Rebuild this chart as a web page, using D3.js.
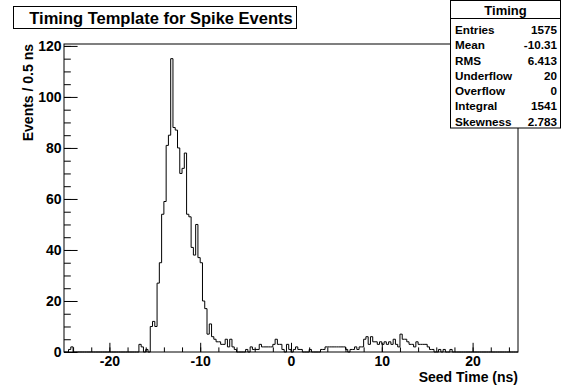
<!DOCTYPE html>
<html><head><meta charset="utf-8">
<script src="https://cdn.jsdelivr.net/npm/d3@7"></script>
<style>
html,body{margin:0;padding:0;background:#fff;}
svg{display:block;font-family:"Liberation Sans",Arial,Helvetica,sans-serif;font-weight:bold;}
</style>
</head><body>
<svg id="c" width="562" height="387"></svg>
<script>
// ---- data ----
const binLow = -25;
const binWidth = 0.25;
const counts = [
  0,0,1,2,0,0,0,0,0,0,0,0,0,0,0,0,0,0,0,0,
  0,0,0,0,0,0,0,0,0,0,0,0,0,3,2,0,1,0,10,12,
  10,27,35,54,59,81,85,115,88,87,80,70,72,78,54,53,41,38,50,37,
  35,20,17,7,11,6,5,4,4,3,3,5,2,5,2,1,0,0,0,0,
  1,0,2,1,1,1,3,2,2,2,2,2,3,5,3,3,1,0,3,1,
  0,1,2,1,1,0,0,0,1,0,0,0,0,1,1,2,2,2,2,2,
  2,2,2,2,1,0,1,1,2,1,2,2,5,6,3,6,4,4,3,4,
  3,4,3,4,3,5,3,2,7,5,5,4,3,3,2,4,3,3,3,3,
  2,1,1,0,0,1,0,1,0,0,1,0,0,0,0,0,0,0,0,0,
  0,0,0,0,0,0,0,0,0,0,0,0,0,0,0,0,0,0,0,0
];
const xDomain = [-25, 25];
const yDomain = [0, 120.75];
const xMajorTicks = [-20, -10, 0, 10, 20];
const xMinorTicks = d3.range(-24, 25, 2);
const yMajorTicks = [0, 20, 40, 60, 80, 100, 120];
const yMinorTicks = d3.range(0, 121, 5);
const titleText = "Timing Template for Spike Events";
const xTitle = "Seed Time (ns)";
const yTitle = "Events / 0.5 ns";
const statsName = "Timing";
const statLabels = ["Entries", "Mean", "RMS", "Underflow", "Overflow", "Integral", "Skewness"];
const statValues = ["1575", "-10.31", "6.413", "20", "0", "1541", "2.783"];

// ---- layout ----
const L = 64, R = 518, T = 44, B = 352;
const svg = d3.select("#c");
svg.append("rect").attr("width", 562).attr("height", 387).attr("fill", "#fff");

const x = d3.scaleLinear().domain(xDomain).range([L, R]);
const y = d3.scaleLinear().domain(yDomain).range([B, T]);

// histogram outline
const bins = counts.map((c, i) => ({x0: binLow + i * binWidth, x1: binLow + (i + 1) * binWidth, c}));
let p = d3.path();
p.moveTo(x(bins[0].x0), y(0));
bins.forEach(b => { p.lineTo(x(b.x0), y(b.c)); p.lineTo(x(b.x1), y(b.c)); });
p.lineTo(x(bins[bins.length - 1].x1), y(0));
svg.append("path").attr("d", p.toString()).attr("fill", "none")
  .attr("stroke", "#000").attr("stroke-width", 1);

// axes
const fs = "14px";
const gx = svg.append("g").attr("transform", `translate(0,${B})`);
gx.call(d3.axisBottom(x).tickValues(xMinorTicks).tickFormat("").tickSizeInner(-4.6).tickSizeOuter(0));
const gx2 = svg.append("g").attr("transform", `translate(0,${B})`);
gx2.call(d3.axisBottom(x).tickValues(xMajorTicks).tickFormat(d3.format("d")).tickSizeInner(-9.2).tickSizeOuter(0).tickPadding(4));
const gy = svg.append("g").attr("transform", `translate(${L},0)`);
gy.call(d3.axisLeft(y).tickValues(yMinorTicks).tickFormat("").tickSizeInner(-6.8).tickSizeOuter(0));
const gy2 = svg.append("g").attr("transform", `translate(${L},0)`);
gy2.call(d3.axisLeft(y).tickValues(yMajorTicks).tickFormat(d3.format("d")).tickSizeInner(-13.6).tickSizeOuter(0).tickPadding(2.5));
svg.selectAll(".domain").remove();
svg.selectAll(".tick line").attr("stroke", "#000");
svg.selectAll(".tick text").attr("font-size", fs).attr("font-family", "Liberation Sans, Arial, sans-serif")
  .attr("font-weight", "bold").attr("fill", "#000");
gx2.selectAll(".tick text").text(d => d < 0 ? "-" + Math.abs(d) : d);

// frame
svg.append("rect").attr("x", L).attr("y", T).attr("width", R - L).attr("height", B - T)
  .attr("fill", "none").attr("stroke", "#000").attr("stroke-width", 1);

// axis titles
svg.append("text").attr("x", R).attr("y", 382).attr("text-anchor", "end")
  .attr("font-size", "14px").text(xTitle);
svg.append("text").attr("transform", `translate(33,${T}) rotate(-90)`).attr("text-anchor", "end")
  .attr("font-size", "14px").text(yTitle);

// title box
svg.append("rect").attr("x", 13.5).attr("y", 6.5).attr("width", 283).attr("height", 22)
  .attr("fill", "#fff").attr("stroke", "#000").attr("stroke-width", 1);
svg.append("text").attr("x", 161).attr("y", 23.5).attr("text-anchor", "middle")
  .attr("font-size", "16.5px").text(titleText);

// stats box
const sx = 450.5, sy = 0.5, sw = 110, sh = 127.5;
svg.append("rect").attr("x", sx).attr("y", sy).attr("width", sw).attr("height", sh)
  .attr("fill", "#fff").attr("stroke", "#000").attr("stroke-width", 1);
svg.append("line").attr("x1", sx).attr("x2", sx + sw).attr("y1", 18.5).attr("y2", 18.5).attr("stroke", "#000");
svg.append("text").attr("x", sx + sw / 2).attr("y", 14.5).attr("text-anchor", "middle")
  .attr("font-size", "13px").text(statsName);
const rowY = d3.scaleLinear().domain([0, statLabels.length - 1]).range([30, 121.5]);
statLabels.forEach((lab, i) => {
  svg.append("text").attr("x", 455).attr("y", rowY(i)).attr("dy", "0.35em")
    .attr("font-size", "11.7px").text(lab);
  svg.append("text").attr("x", 557).attr("y", rowY(i)).attr("dy", "0.35em").attr("text-anchor", "end")
    .attr("font-size", "11.7px").text(statValues[i]);
});
</script>
</body></html>
